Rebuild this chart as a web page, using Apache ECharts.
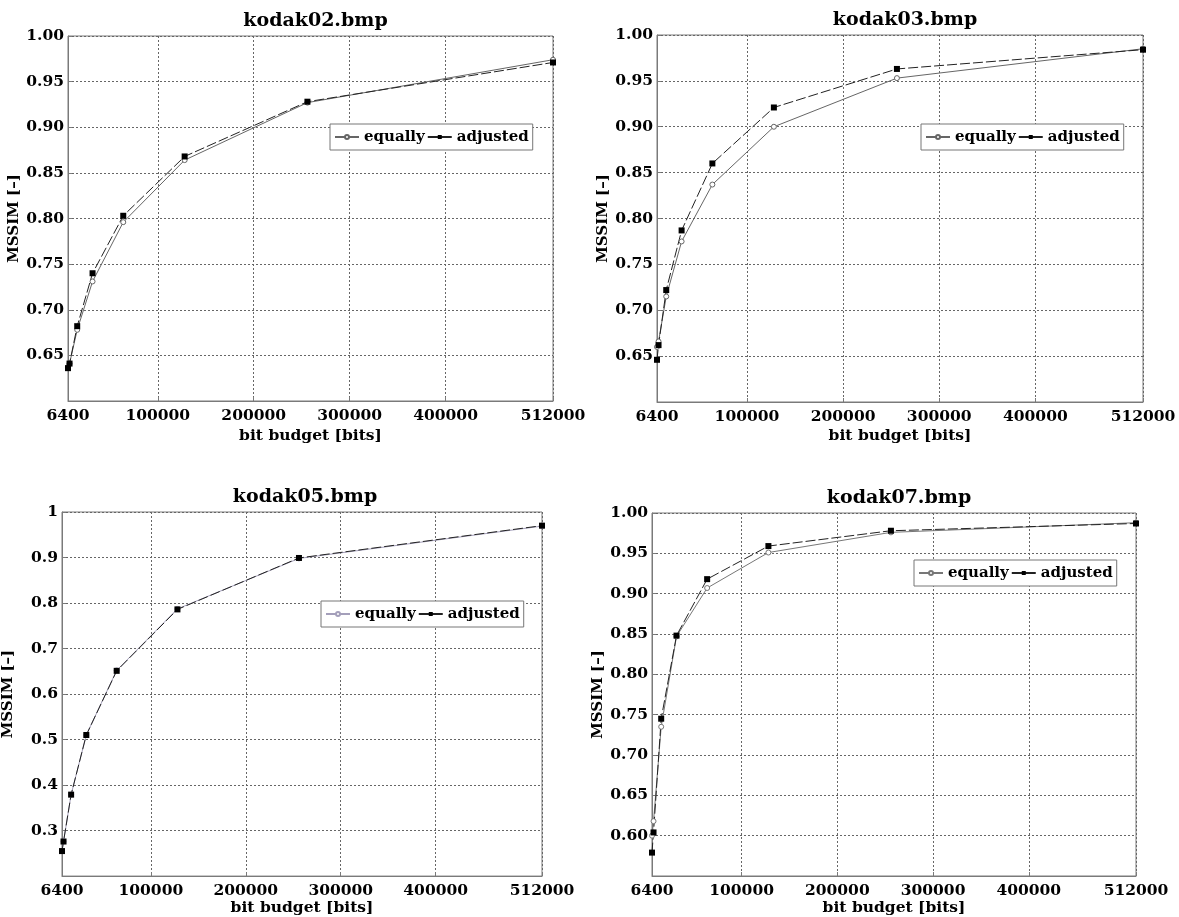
<!DOCTYPE html>
<html><head><meta charset="utf-8">
<script src="https://cdn.jsdelivr.net/npm/echarts@6/dist/echarts.min.js"></script>
<style>html,body{margin:0;padding:0;background:#fff}#c{width:1179px;height:917px}</style>
</head><body><div id="c"></div>
<script>
const budgets = [6400, 8000, 16000, 32000, 64000, 128000, 256000, 512000];
const xTicks = [6400, 100000, 200000, 300000, 400000, 512000];
const titles = ['kodak02.bmp', 'kodak03.bmp', 'kodak05.bmp', 'kodak07.bmp'];
const k02Equally  = [0.637, 0.641, 0.678, 0.731, 0.796, 0.864, 0.927, 0.974];
const k02Adjusted = [0.636, 0.641, 0.682, 0.740, 0.803, 0.868, 0.928, 0.971];
const k03Equally  = [0.660, 0.666, 0.715, 0.775, 0.837, 0.900, 0.953, 0.985];
const k03Adjusted = [0.646, 0.662, 0.722, 0.787, 0.860, 0.921, 0.963, 0.984];
const k05Equally  = [0.255, 0.276, 0.379, 0.510, 0.652, 0.787, 0.898, 0.969];
const k05Adjusted = [0.255, 0.276, 0.379, 0.510, 0.651, 0.786, 0.899, 0.970];
const k07Equally  = [0.600, 0.618, 0.735, 0.847, 0.907, 0.951, 0.976, 0.988];
const k07Adjusted = [0.579, 0.604, 0.745, 0.848, 0.918, 0.959, 0.978, 0.987];
const yMins = [0.60, 0.60, 0.2, 0.55];
const yIntervals = [0.05, 0.05, 0.1, 0.05];
const seriesEq = [k02Equally, k03Equally, k05Equally, k07Equally];
const seriesAdj = [k02Adjusted, k03Adjusted, k05Adjusted, k07Adjusted];

const FONT = 'DejaVu Serif';
const panels = [
  {left: 68, top: 36, width: 485, height: 365, titleTop: 7, legend: [330, 124], nameGap: 27, eqColor: '#666'},
  {left: 657, top: 35, width: 486, height: 367, titleTop: 6, legend: [921, 124], nameGap: 26, eqColor: '#666'},
  {left: 58, top: 512, width: 484, height: 365, titleTop: 483, legend: [321, 601], nameGap: 21, eqColor: '#a49fba'},
  {left: 652, top: 513, width: 484, height: 363, titleTop: 484, legend: [914, 560], nameGap: 21, eqColor: '#777'}
];

const option = {
  animation: false,
  backgroundColor: '#fff',
  title: [], grid: [], xAxis: [], yAxis: [], legend: [], series: []
};

panels.forEach((p, i) => {
  option.title.push({
    text: titles[i], left: p.left + p.width / 2, top: p.titleTop, textAlign: 'center',
    textStyle: {fontFamily: FONT, fontWeight: 'bold', fontSize: 19, color: '#000'}
  });
  option.grid.push({
    left: p.left, top: p.top, width: p.width, height: p.height,
    show: true, borderColor: '#7a7a7a', borderWidth: 1, backgroundColor: 'transparent'
  });
  option.xAxis.push({
    type: 'value', gridIndex: i, min: 6400, max: 512000,
    name: 'bit budget [bits]', nameLocation: 'middle', nameGap: p.nameGap,
    nameTextStyle: {fontFamily: FONT, fontWeight: 'bold', fontSize: 15.5, color: '#000'},
    axisLine: {show: true, lineStyle: {color: '#7a7a7a', width: 1}},
    axisTick: {show: true, inside: true, length: 4, lineStyle: {color: '#7a7a7a'}, customValues: xTicks},
    axisLabel: {customValues: xTicks, margin: 7, fontFamily: FONT, fontWeight: 'bold', fontSize: 15.5, color: '#000',
      formatter: v => String(v), showMinLabel: true, showMaxLabel: true},
    splitLine: {show: true, lineStyle: {color: '#666', width: 1, type: [2, 2]}}
  });
  const dec = yIntervals[i] < 0.1 ? 2 : 1;
  option.yAxis.push({
    type: 'value', gridIndex: i, min: yMins[i], max: 1, interval: yIntervals[i],
    name: 'MSSIM [–]', nameLocation: 'middle', nameGap: 46,
    nameTextStyle: {fontFamily: FONT, fontWeight: 'bold', fontSize: 15, color: '#000'},
    axisLine: {show: true, lineStyle: {color: '#7a7a7a', width: 1}},
    axisTick: {show: true, inside: true, length: 4, lineStyle: {color: '#7a7a7a'}},
    axisLabel: {margin: 4, fontFamily: FONT, fontWeight: 'bold', fontSize: 15.5, color: '#000',
      showMinLabel: false,
      formatter: v => dec === 2 ? v.toFixed(2) : String(+v.toFixed(1))},
    splitLine: {show: true, lineStyle: {color: '#666', width: 1, type: [2, 2]}}
  });
  option.legend.push({
    left: p.legend[0], top: p.legend[1], orient: 'horizontal',
    data: [
      {name: 'equally_' + i},
      {name: 'adjusted_' + i, lineStyle: {type: 'solid'}}
    ],
    formatter: n => n.split('_')[0],
    padding: [5, 4], itemGap: 2, itemWidth: 24, itemHeight: 5,
    backgroundColor: '#fff', borderColor: '#777', borderWidth: 1, borderRadius: 0,
    textStyle: {fontFamily: FONT, fontWeight: 'bold', fontSize: 15, color: '#000', lineHeight: 16}
  });
  option.series.push({
    name: 'equally_' + i, type: 'line', xAxisIndex: i, yAxisIndex: i,
    data: budgets.map((b, j) => [b, seriesEq[i][j]]),
    symbol: 'circle', symbolSize: 5,
    lineStyle: {color: p.eqColor, width: 1, type: 'solid'},
    itemStyle: {color: '#fff', borderColor: p.eqColor, borderWidth: 1}
  });
  option.series.push({
    name: 'adjusted_' + i, type: 'line', xAxisIndex: i, yAxisIndex: i,
    data: budgets.map((b, j) => [b, seriesAdj[i][j]]),
    symbol: 'rect', symbolSize: 6,
    lineStyle: {color: '#222', width: 1, type: [10, 3]},
    itemStyle: {color: '#000', borderColor: '#000', borderWidth: 0}
  });
});

const chart = echarts.init(document.getElementById('c'), null, {renderer: 'canvas'});
chart.setOption(option);
</script>
</body></html>
